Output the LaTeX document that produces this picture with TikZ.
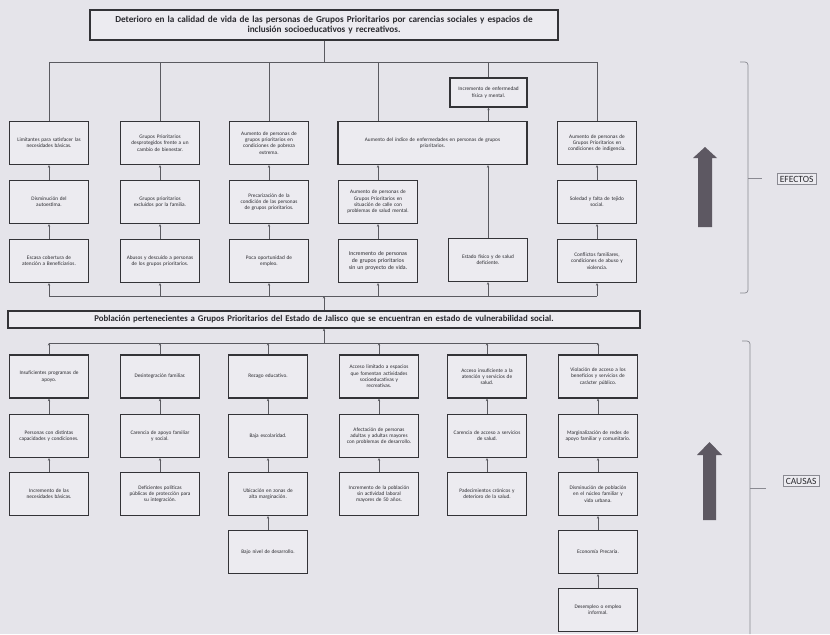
\documentclass[tikz,border=0pt]{standalone}
\usepackage{fontspec}
\setmainfont{Carlito}
\usetikzlibrary{arrows.meta}
\definecolor{bg}{HTML}{E5E4EA}
\definecolor{boxfill}{HTML}{ECEBF0}
\definecolor{boxline}{HTML}{333337}
\definecolor{lncol}{HTML}{5A5A60}
\definecolor{txt}{HTML}{2A2A2F}
\definecolor{bigarrow}{HTML}{5D5862}
\definecolor{bracecol}{HTML}{8A8A92}
\tikzset{
 bx/.style={draw=boxline, line width=1.3pt, fill=boxfill, align=center, inner sep=1pt, text=txt, font=\fontsize{5.3}{6.3}\selectfont},
 eb/.style={bx, minimum width=79pt, minimum height=43pt, text width=75pt},
 ln/.style={draw=lncol, line width=0.6pt},
 ar/.style={draw=lncol, line width=0.6pt, -{Stealth[length=2.6pt,width=2.4pt]}},
 lab/.style={draw=bracecol, line width=0.6pt, fill=boxfill, inner sep=2.5pt, text=txt, font=\fontsize{9.5}{10}\selectfont},
 brace/.style={draw=bracecol, line width=0.7pt},
}
\begin{document}
\begin{tikzpicture}[x=1pt,y=-1pt]
\path[fill=bg] (0,0) rectangle (830,634);
% top problem
\node[bx, minimum width=468pt, minimum height=30pt, text width=464pt, font=\bfseries\fontsize{9.2}{10.2}\selectfont] (tb) at (324,25)
 {Deterioro en la calidad de vida de las personas de Grupos Prioritarios por carencias sociales y espacios de\\inclusión socioeducativos y recreativos.};
% effects
\node[eb] (e11) at (49,143) {Limitantes para satisfacer las\\necesidades básicas.};
\node[eb] (e12) at (49,202) {Disminución del\\autoestima.};
\node[eb] (e13) at (49,261) {Escasa cobertura de\\atención a Beneficiarios.};
\node[eb] (e21) at (160,143) {Grupos Prioritarios\\desprotegidos frente a un\\cambio de bienestar.};
\node[eb] (e22) at (160,202) {Grupos prioritarios\\excluidos por la familia.};
\node[eb] (e23) at (160,261) {Abusos y descuido a personas\\de los grupos prioritarios.};
\node[eb] (e31) at (269,143) {Aumento de personas de\\grupos prioritarios en\\condiciones de pobreza\\extrema.};
\node[eb] (e32) at (269,202) {Precarización de la\\condición de las personas\\de grupos prioritarios.};
\node[eb] (e33) at (269,261) {Poca oportunidad de\\empleo.};
\node[bx, minimum width=77pt, minimum height=29pt, text width=73pt] (e4s) at (488.5,92.5) {Incremento de enfermedad\\física y mental.};
\node[bx, minimum width=189pt, minimum height=43pt, text width=180pt] (e4w) at (432.5,143) {Aumento del índice de enfermedades en personas de grupos\\prioritarios.};
\node[eb] (e42) at (378,202) {Aumento de personas de\\Grupos Prioritarios en\\situación de calle con\\problemas de salud mental.};
\node[eb, font=\fontsize{5.8}{6.8}\selectfont] (e43) at (378,261) {Incremento de personas\\de grupos prioritarios\\sin un proyecto de vida.};
\node[eb] (e44) at (488,260) {Estado físico y de salud\\deficiente.};
\node[eb] (e51) at (597,143) {Aumento de personas de\\Grupos Prioritarios en\\condiciones de indigencia.};
\node[eb] (e52) at (597,202) {Soledad y falta de tejido\\social.};
\node[eb] (e53) at (597,261) {Conflictos familiares,\\condiciones de abuso y\\violencia.};
% central problem
\node[bx, minimum width=632pt, minimum height=17pt, text width=626pt, font=\bfseries\fontsize{8.8}{9.5}\selectfont] (pb) at (324,319.5)
 {Población pertenecientes a Grupos Prioritarios del Estado de Jalisco que se encuentran en estado de vulnerabilidad social.};
% causes
\node[eb] (c11) at (49,376.5) {Insuficientes programas de\\apoyo.};
\node[eb] (c12) at (49,436) {Personas con distintas\\capacidades y condiciones.};
\node[eb] (c13) at (49,494) {Incremento de las\\necesidades básicas.};
\node[eb] (c21) at (160,376.5) {Desintegración familiar.};
\node[eb] (c22) at (160,436) {Carencia de apoyo familiar\\y social.};
\node[eb] (c23) at (160,494) {Deficientes políticas\\públicas de protección para\\su integración.};
\node[eb] (c31) at (268,376.5) {Rezago educativo.};
\node[eb] (c32) at (268,436) {Baja escolaridad.};
\node[eb] (c33) at (268,494) {Ubicación en zonas de\\alta marginación.};
\node[eb] (c34) at (268,552) {Bajo nivel de desarrollo.};
\node[eb] (c41) at (379,376.5) {Acceso limitado a espacios\\que fomentan actividades\\socioeducativas y\\recreativas.};
\node[eb] (c42) at (379,436) {Afectación de personas\\adultas y adultas mayores\\con problemas de desarrollo.};
\node[eb] (c43) at (379,494) {Incremento de la población\\sin actividad laboral\\mayores de 50 años.};
\node[eb] (c51) at (487,376.5) {Acceso insuficiente a la\\atención y servicios de\\salud.};
\node[eb] (c52) at (487,436) {Carencia de acceso a servicios\\de salud.};
\node[eb] (c53) at (487,494) {Padecimientos crónicos y\\deterioro de la salud.};
\node[eb] (c61) at (598,376.5) {Violación de acceso a los\\beneficios y servicios de\\carácter público.};
\node[eb] (c62) at (598,436) {Marginalización de redes de\\apoyo familiar y comunitario.};
\node[eb] (c63) at (598,494) {Disminución de población\\en el núcleo familiar y\\vida urbana.};
\node[eb] (c64) at (598,552) {Economía Precaria.};
\node[eb] (c65) at (598,610) {Desempleo o empleo\\informal.};
% effect connectors
\coordinate (ehl) at (49,62);
\coordinate (ehr) at (597,62);
\draw[ln] (ehl) -- (ehr);
\draw[ln] (tb.south) -- (tb.south |- ehl);
\foreach \n in {e11,e21,e31,e51,e4s} \draw[ln] (\n.north |- ehl) -- (\n.north);
\draw[ln] (e42.north |- ehl) -- (e42.north |- e4w.north);
\draw[ar] (e4s.south |- e4w.north) -- (e4s.south);
\draw[ar] (e42.north) -- (e42.north |- e4w.south);
\draw[ar] (e44.north) -- (e44.north |- e4w.south);
\foreach \a/\b in {e12/e11,e13/e12,e22/e21,e23/e22,e32/e31,e33/e32,e43/e42,e52/e51,e53/e52} \draw[ar] (\a.north) -- (\b.south);
\coordinate (bhl) at (49,296);
\coordinate (bhr) at (597,296);
\draw[ln] (bhl) -- (bhr);
\foreach \n in {e13,e23,e33,e43,e44,e53} \draw[ar] (\n.south |- bhl) -- (\n.south);
\draw[ar] (pb.north) -- (pb.north |- bhl);
% cause connectors
\coordinate (chl) at (49,343);
\coordinate (chr) at (598,343);
\draw[ln] (chl) -- (chr);
\draw[ar] (pb.south |- chl) -- (pb.south);
\foreach \n in {c11,c21,c31,c41,c51,c61} \draw[ar] (\n.north) -- (\n.north |- chl);
\foreach \a/\b in {c12/c11,c13/c12,c22/c21,c23/c22,c32/c31,c33/c32,c34/c33,c42/c41,c43/c42,c52/c51,c53/c52,c62/c61,c63/c62,c64/c63,c65/c64} \draw[ar] (\a.north) -- (\b.south);
% big arrows
\fill[bigarrow] (698,227) -- (712,227) -- (712,158) -- (717,158) -- (705,147) -- (693,158) -- (698,158) -- cycle;
\fill[bigarrow] (703,520) -- (716,520) -- (716,455) -- (722,455) -- (709.5,442) -- (697,455) -- (703,455) -- cycle;
% braces and labels
\draw[brace, rounded corners=3pt] (740,62) -| (748,293) -- (740,293);
\coordinate (bt1) at (748,178);
\node[lab, anchor=west] (efectos) at (777,179) {EFECTOS};
\draw[brace] (bt1) -- (762,178);
\draw[brace, rounded corners=3pt] (742,341) -| (750,634);
\coordinate (bt2) at (750,488);
\node[lab, anchor=west] (causas) at (783,481) {CAUSAS};
\draw[brace] (bt2) -- (766,488);
\end{tikzpicture}
\end{document}
